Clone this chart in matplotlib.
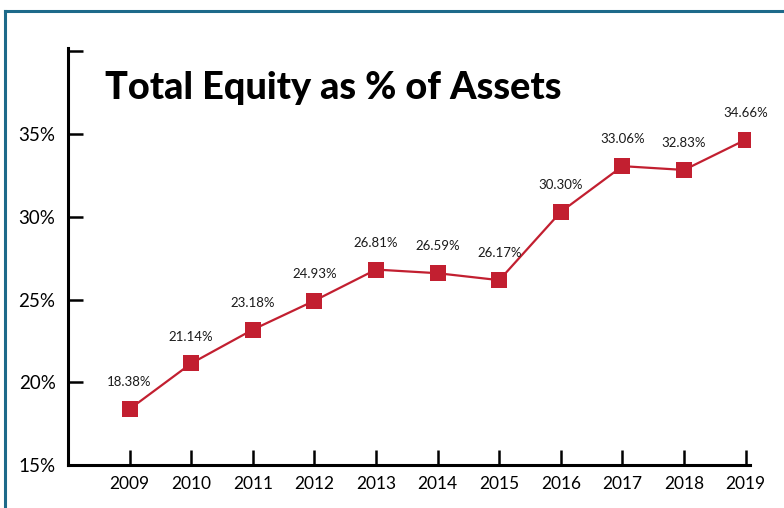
import matplotlib.pyplot as plt
from matplotlib.lines import Line2D

# ============================================================================
# DATA
# ============================================================================
years = [2009, 2010, 2011, 2012, 2013, 2014, 2015, 2016, 2017, 2018, 2019]
equity_pct = [18.38, 21.14, 23.18, 24.93, 26.81, 26.59, 26.17, 30.30, 33.06, 32.83, 34.66]
y_ticks = [15, 20, 25, 30, 35, 40]
y_tick_labels = ["15%", "20%", "25%", "30%", "35%", ""]
title = "Total Equity as % of Assets"

# ============================================================================
# STYLE
# ============================================================================
LINE_RED = "#c21f30"
FRAME_TEAL = "#1d6a8a"
plt.rcParams['font.family'] = ['Lato', 'DejaVu Sans']

fig = plt.figure(figsize=(7.84, 5.08), dpi=100)
ax = fig.add_axes([68 / 784, 43 / 508, 682 / 784, 417 / 508])

ax.plot(years, equity_pct, color=LINE_RED, lw=1.6, marker="s",
        markersize=11, markerfacecolor=LINE_RED, markeredgewidth=0, zorder=3)

for yr, val in zip(years, equity_pct):
    ax.annotate(f"{val:.2f}%", (yr, val), xytext=(0, 15), textcoords="offset points",
                ha="center", va="bottom", fontsize=9.5, color="#1a1a1a")

ax.set_xlim(2008.0, 2019.07)
ax.set_ylim(15, 40.2)
ax.set_xticks(years)
ax.set_xticklabels([str(y) for y in years], fontsize=12.5)
ax.set_yticks(y_ticks)
ax.set_yticklabels(y_tick_labels, fontsize=13.5)
ax.tick_params(axis="both", direction="in", length=11, width=1.8, colors="black")
ax.tick_params(axis="x", pad=8)
ax.tick_params(axis="y", pad=9)

for side in ["top", "right"]:
    ax.spines[side].set_visible(False)
for side in ["left", "bottom"]:
    ax.spines[side].set_linewidth(2.2)

fig.text(105 / 784, 1 - 88 / 508, title, fontsize=27.3, fontweight=900,
         ha="left", va="center", color="black")

# teal frame along top and left edges
fig.add_artist(Line2D([5 / 784, 5 / 784], [0, 1 - 11 / 508], transform=fig.transFigure,
                      color=FRAME_TEAL, lw=2.2))
fig.add_artist(Line2D([5 / 784, 1], [1 - 11 / 508, 1 - 11 / 508], transform=fig.transFigure,
                      color=FRAME_TEAL, lw=2.2))

fig.savefig("out.png", dpi=100)
